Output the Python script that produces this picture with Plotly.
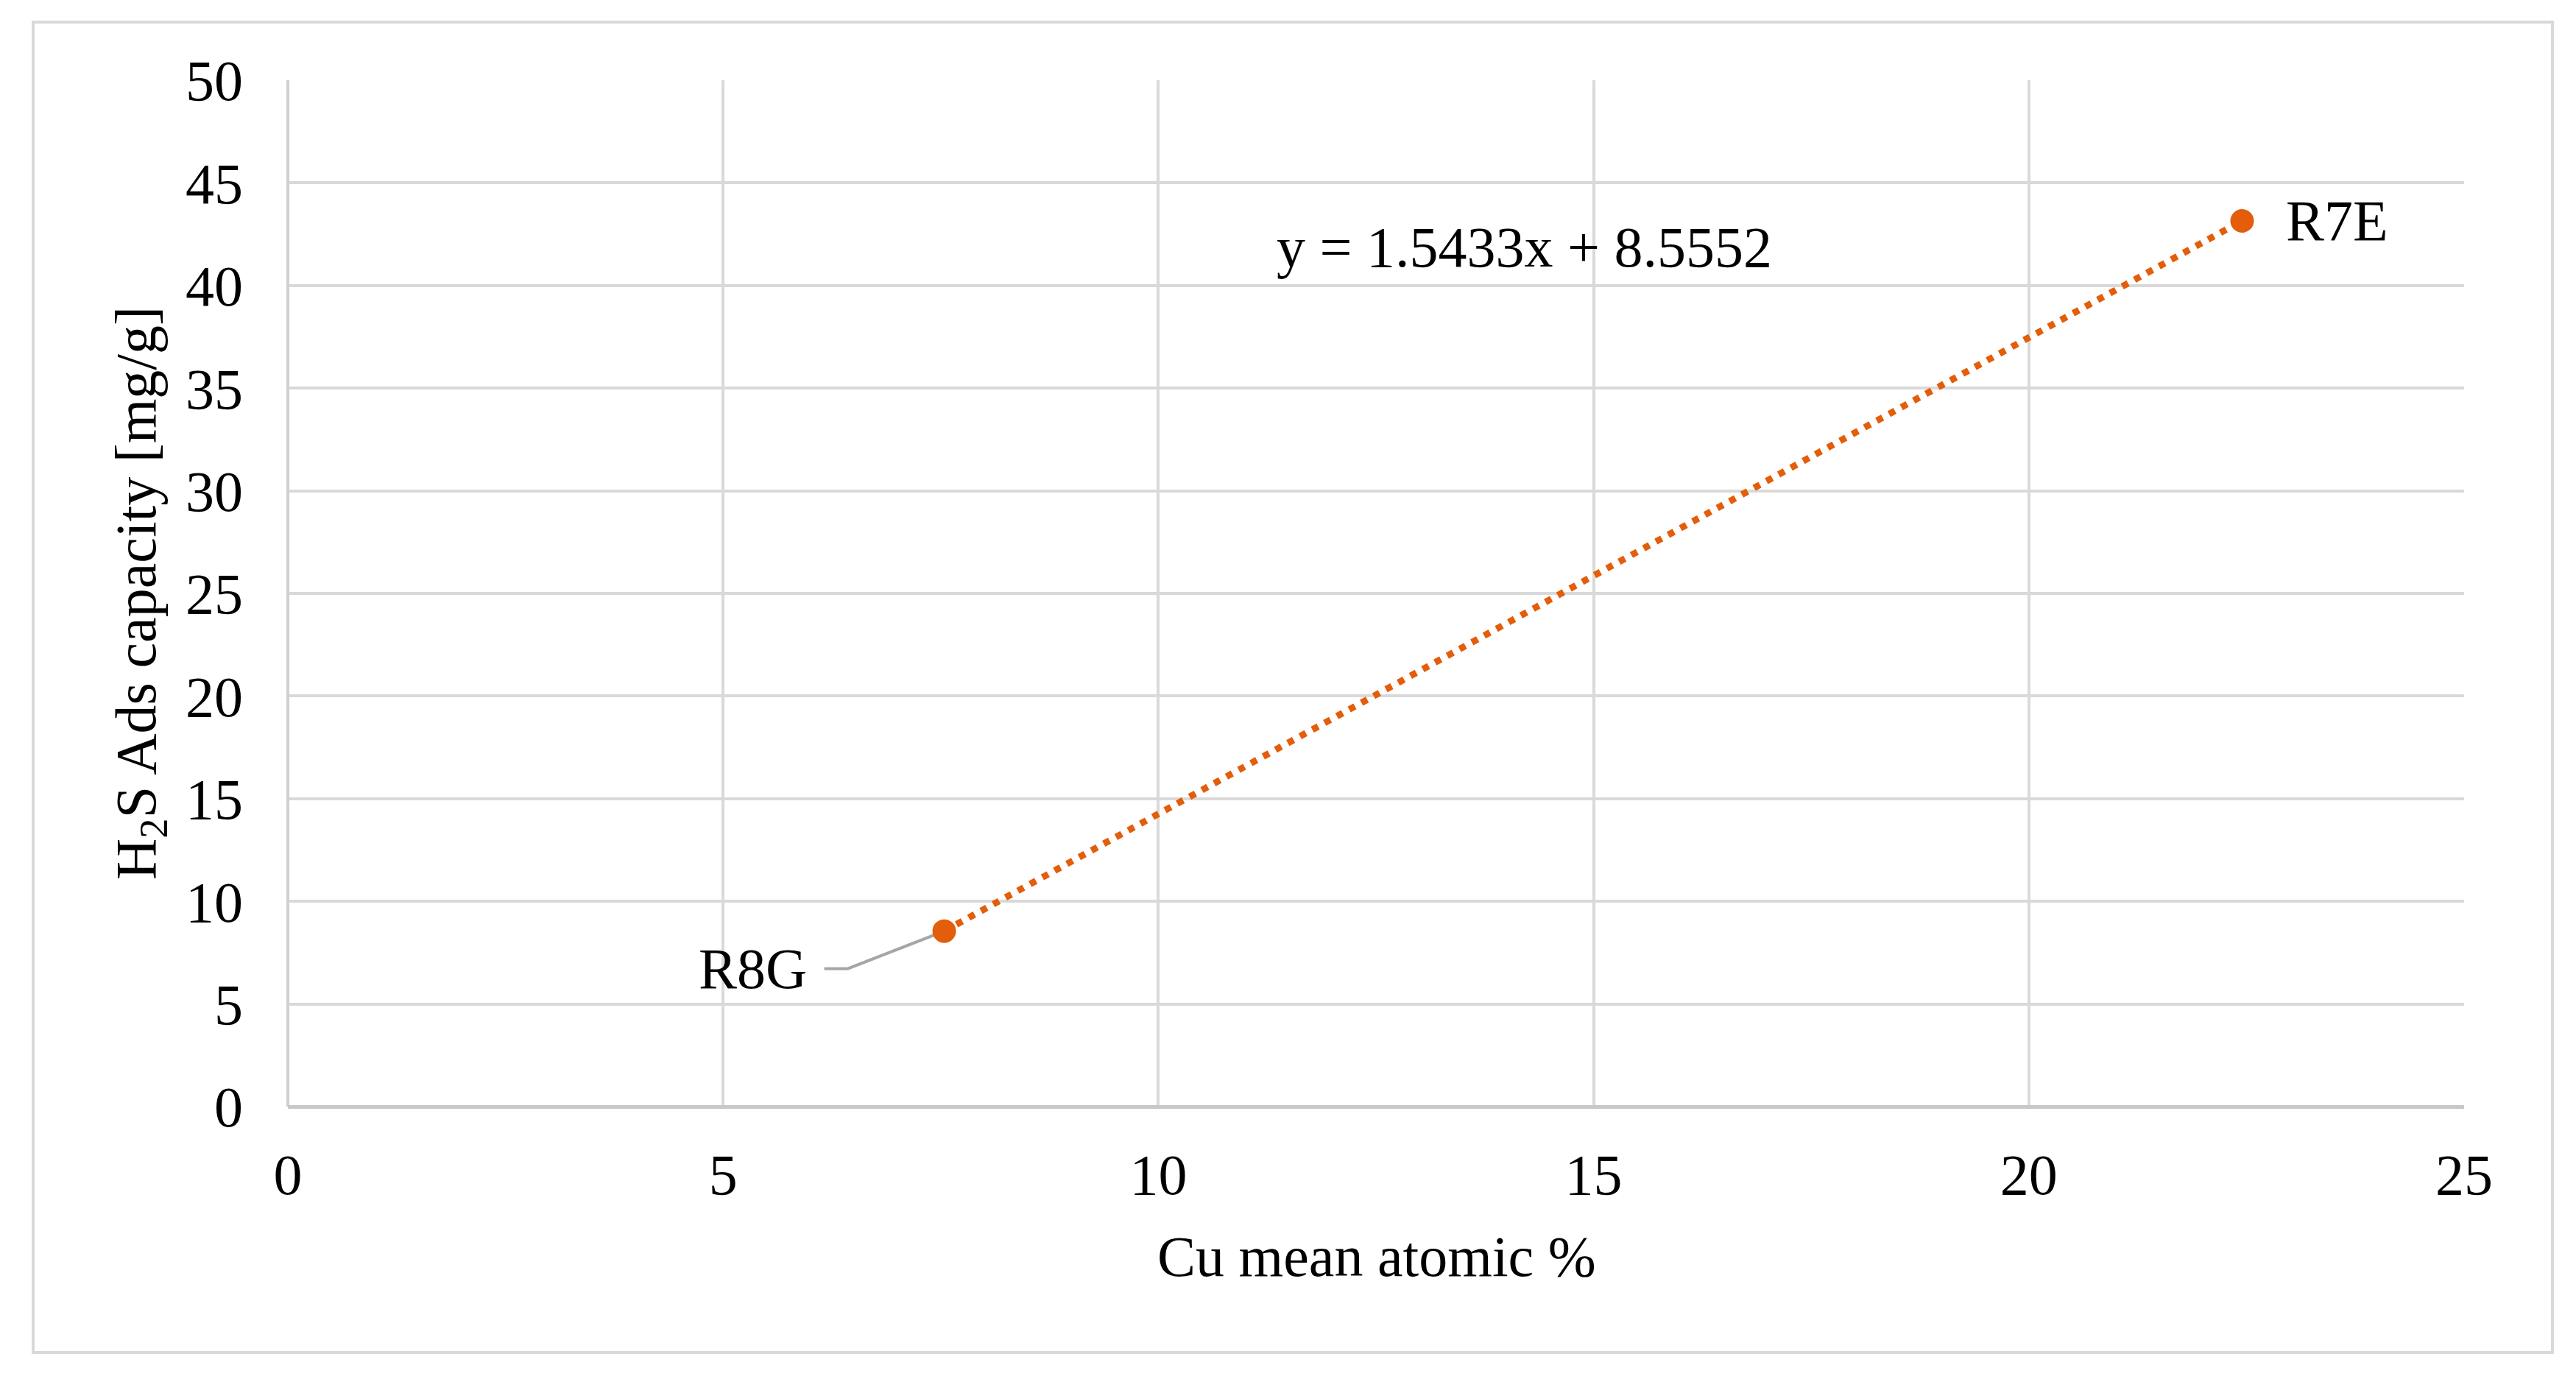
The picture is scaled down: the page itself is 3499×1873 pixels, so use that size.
import numpy as np
import plotly.graph_objects as go

# sample points
samples = ["R8G", "R7E"]
cu_atomic = [7.54, 22.45]
h2s_capacity = [8.55, 43.15]

x_ticks = [0, 5, 10, 15, 20, 25]
y_ticks = [0, 5, 10, 15, 20, 25, 30, 35, 40, 45, 50]
equation_text = "y = 1.5433x + 8.5552"

OFF = 8  # page body margin
W, H = 3499 - OFF, 1873 - OFF
L, R, T, B = 391, 3347, 109, 1503  # plot area in screen pixels
ORANGE = "#E35D0A"
GRID = "#D9D9D9"
FONT = dict(family="Liberation Serif, Times New Roman, serif", size=78, color="black")


def px(x):
    return (x - L) / (R - L)


def py(y):
    return (B - y) / (B - T)


# linear trend through the points
slope, icpt = np.polyfit(cu_atomic, h2s_capacity, 1)
trend_x = [min(cu_atomic), max(cu_atomic)]
trend_y = [slope * v + icpt for v in trend_x]

fig = go.Figure()
fig.add_trace(go.Scatter(
    x=trend_x, y=trend_y, mode="lines",
    line=dict(color=ORANGE, width=9, dash="9px,10px"),
    hoverinfo="skip", showlegend=False,
))
fig.add_trace(go.Scatter(
    x=cu_atomic, y=h2s_capacity, mode="markers",
    marker=dict(color=ORANGE, size=32, line=dict(width=0)),
    text=samples, showlegend=False,
))

# leader line for R8G (pixel path anchored at the point)
fig.add_shape(
    type="path", xref="x", yref="y",
    xsizemode="pixel", ysizemode="pixel",
    xanchor=cu_atomic[0], yanchor=h2s_capacity[0],
    path="M 0,0 L -131,-51 L -163,-51",
    line=dict(color="#A6A6A6", width=4), layer="between",
)

# outer frame
fig.add_shape(
    type="rect", xref="paper", yref="paper",
    x0=px(45), x1=px(3467), y0=py(1837), y1=py(30),
    line=dict(color=GRID, width=4), fillcolor="rgba(0,0,0,0)", layer="below",
)

fig.add_annotation(
    x=cu_atomic[0], y=h2s_capacity[0], text=samples[0], showarrow=False,
    xanchor="right", yanchor="middle", xshift=-185, yshift=-51, font=FONT,
)
fig.add_annotation(
    x=cu_atomic[1], y=h2s_capacity[1], text=samples[1], showarrow=False,
    xanchor="left", yanchor="middle", xshift=58, yshift=0, font=FONT,
)
fig.add_annotation(
    xref="paper", yref="paper", x=px(2070), y=py(335), text=equation_text,
    showarrow=False, xanchor="center", yanchor="middle", font=FONT,
)
fig.add_annotation(
    xref="paper", yref="paper", x=px(1870), y=py(1707), text="Cu mean atomic %",
    showarrow=False, xanchor="center", yanchor="middle", font=FONT,
)
fig.add_annotation(
    xref="paper", yref="paper", x=px(190), y=0.5,
    text="H<sub>2</sub>S Ads capacity [mg/g]", textangle=-90,
    showarrow=False, xanchor="center", yanchor="middle", font=FONT,
)

fig.update_xaxes(
    range=[0, 25], tickvals=x_ticks, showgrid=True, gridcolor=GRID, gridwidth=4,
    zeroline=True, zerolinecolor="#D0D0D0", zerolinewidth=4,
    showline=False, ticks="", ticklabelstandoff=40, tickfont=FONT,
)
fig.update_yaxes(
    range=[0, 50], tickvals=y_ticks, showgrid=True, gridcolor=GRID, gridwidth=4,
    zeroline=True, zerolinecolor="#C8C8C8", zerolinewidth=5,
    showline=False, ticks="", ticklabelstandoff=60, tickfont=FONT,
)

fig.update_layout(
    width=W, height=H, autosize=False,
    margin=dict(l=L - OFF, r=W - (R - OFF), t=T - OFF, b=H - (B - OFF)),
    paper_bgcolor="white", plot_bgcolor="white",
    font=FONT,
)

fig.write_html("out.html")
